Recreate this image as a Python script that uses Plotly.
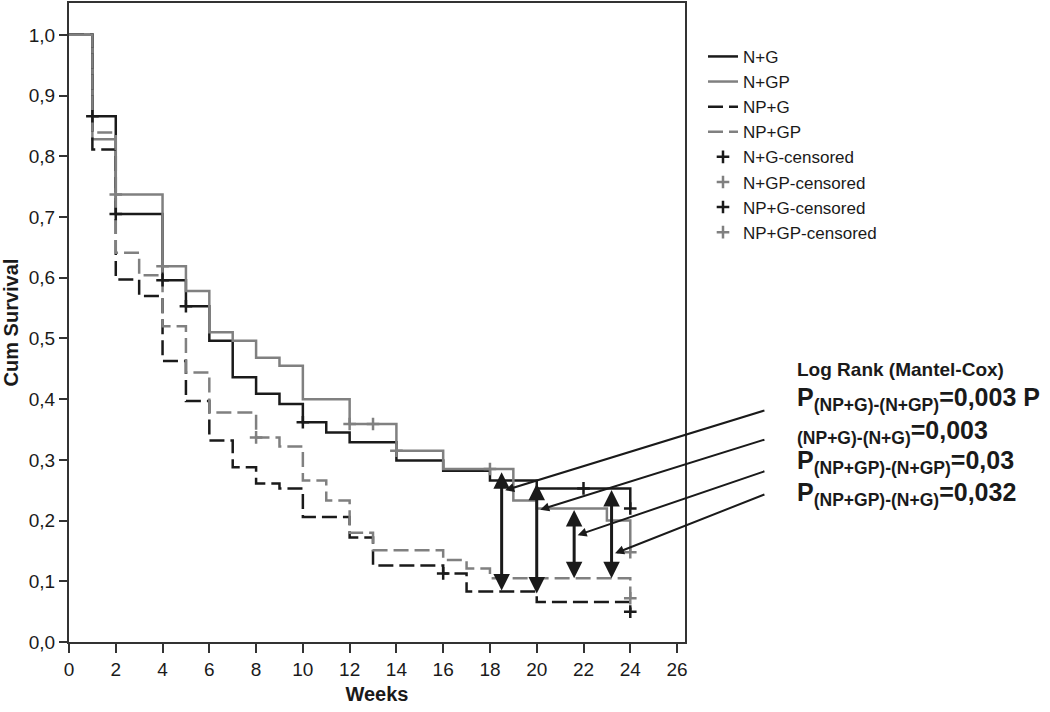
import plotly.graph_objects as go

# ── Kaplan-Meier step data (weeks, cumulative survival) ──────────────────────
ng_t = [0, 1, 2, 4, 5, 6, 7, 8, 9, 10, 11, 12, 14, 16, 18, 20, 24]
ng_s = [1.0, 0.866, 0.705, 0.596, 0.553, 0.496, 0.436, 0.409, 0.392, 0.362,
        0.345, 0.329, 0.299, 0.282, 0.266, 0.253, 0.22]

ngp_t = [0, 1, 2, 4, 5, 6, 7, 8, 9, 10, 12, 14, 16, 19, 20, 23, 24]
ngp_s = [1.0, 0.828, 0.737, 0.619, 0.578, 0.51, 0.496, 0.468, 0.455, 0.40,
         0.359, 0.315, 0.285, 0.233, 0.22, 0.20, 0.148]

npg_t = [0, 1, 2, 3, 4, 5, 6, 7, 8, 9, 10, 12, 13, 16, 17, 20, 24]
npg_s = [1.0, 0.811, 0.597, 0.570, 0.463, 0.397, 0.332, 0.288, 0.261, 0.253,
         0.206, 0.172, 0.126, 0.113, 0.083, 0.066, 0.05]

npgp_t = [0, 1, 2, 3, 4, 5, 6, 8, 9, 10, 11, 12, 13, 16, 17, 18, 24]
npgp_s = [1.0, 0.839, 0.641, 0.604, 0.52, 0.444, 0.378, 0.337, 0.322, 0.266,
          0.233, 0.18, 0.151, 0.135, 0.121, 0.105, 0.072]

# censored observations
ng_ct = [1, 2, 4, 5, 10, 22, 24]
ng_cs = [0.866, 0.705, 0.596, 0.553, 0.362, 0.253, 0.22]
ngp_ct = [2, 4, 12, 13, 14, 18, 24]
ngp_cs = [0.737, 0.619, 0.359, 0.359, 0.315, 0.285, 0.148]
npg_ct = [16, 24]
npg_cs = [0.113, 0.05]
npgp_ct = [8, 24]
npgp_cs = [0.337, 0.072]

# comparison arrows (week, lower, upper)
cmp_x = [18.5, 20.0, 21.6, 23.2]
cmp_lo = [0.085, 0.08, 0.105, 0.105]
cmp_hi = [0.282, 0.263, 0.22, 0.253]

# pointer lines: tip (week, surv) and tail (week, surv)
ptr_tip_x = [18.65, 20.15, 21.75, 23.35]
ptr_tip_y = [0.250, 0.218, 0.176, 0.146]
ptr_tail_x = [29.8, 29.8, 29.8, 29.8]
ptr_tail_y = [0.382, 0.334, 0.282, 0.244]

# Log rank text block
logrank_title = "Log Rank (Mantel-Cox)"
logrank_lines = [
    "P<sub>(NP+G)-(N+GP)</sub>=0,003 P",
    "<sub>(NP+G)-(N+G)</sub>=0,003",
    "P<sub>(NP+GP)-(N+GP)</sub>=0,03",
    "P<sub>(NP+GP)-(N+G)</sub>=0,032",
]

BLACK = "#1a1a1a"
GRAY = "#808080"
DASH = "15px,6px"
FONT = "Liberation Sans, Arial, sans-serif"

fig = go.Figure()

curves = [
    ("N+G", ng_t, ng_s, BLACK, "solid"),
    ("N+GP", ngp_t, ngp_s, GRAY, "solid"),
    ("NP+G", npg_t, npg_s, BLACK, DASH),
    ("NP+GP", npgp_t, npgp_s, GRAY, DASH),
]
for name, t, s, col, dash in curves:
    fig.add_trace(go.Scatter(
        x=t, y=s, mode="lines", name=name, line_shape="hv",
        line=dict(color=col, width=2.5, dash=dash),
        legendgroup=name,
    ))

censored = [
    ("N+G-censored", ng_ct, ng_cs, BLACK),
    ("N+GP-censored", ngp_ct, ngp_cs, GRAY),
    ("NP+G-censored", npg_ct, npg_cs, BLACK),
    ("NP+GP-censored", npgp_ct, npgp_cs, GRAY),
]
for name, t, s, col in censored:
    fig.add_trace(go.Scatter(
        x=t, y=s, mode="markers", name=name,
        marker=dict(symbol="cross-thin", size=9, color=col,
                    line=dict(color=col, width=2.5)),
        legendgroup=name,
    ))

# margins (pixels) and plot area size, for placing text in pixel terms
L, R, T, B = 69, 365, 1, 70
pw, ph = 1050 - L - R, 712 - T - B


def px_to_paper(px, py):
    return (px - L) / pw, (712 - B - py) / ph


annotations = []
for x, lo, hi in zip(cmp_x, cmp_lo, cmp_hi):
    annotations.append(dict(
        x=x, y=lo, ax=x, ay=hi, xref="x", yref="y", axref="x", ayref="y",
        text="", showarrow=True, arrowhead=2, arrowside="end+start",
        arrowsize=1.1, arrowwidth=3, arrowcolor=BLACK,
    ))
for tx, ty, sx, sy in zip(ptr_tip_x, ptr_tip_y, ptr_tail_x, ptr_tail_y):
    annotations.append(dict(
        x=tx, y=ty, ax=sx, ay=sy, xref="x", yref="y", axref="x", ayref="y",
        text="", showarrow=True, arrowhead=2, arrowsize=0.9,
        arrowwidth=2, arrowcolor=BLACK,
    ))

ax_, ay_ = px_to_paper(795, 369)
annotations.append(dict(
    x=ax_, y=ay_, xref="paper", yref="paper", text=f"<b>{logrank_title}</b>",
    showarrow=False, xanchor="left", yanchor="middle",
    font=dict(size=19, family=FONT, color=BLACK),
))
for line, py in zip(logrank_lines, [398, 431, 461, 494]):
    ax_, ay_ = px_to_paper(795, py)
    annotations.append(dict(
        x=ax_, y=ay_, xref="paper", yref="paper", text=f"<b>{line}</b>",
        showarrow=False, xanchor="left", yanchor="middle",
        font=dict(size=25, family=FONT, color=BLACK),
    ))

lx, ly = px_to_paper(703, 37)

fig.update_layout(
    width=1050, height=712,
    paper_bgcolor="white", plot_bgcolor="white",
    margin=dict(l=L, r=R, t=T, b=B),
    font=dict(family=FONT, color=BLACK),
    showlegend=True,
    legend=dict(
        x=lx, y=ly, xanchor="left", yanchor="top",
        font=dict(size=17, color=BLACK), bgcolor="rgba(0,0,0,0)",
        tracegroupgap=0, itemwidth=30,
    ),
    annotations=annotations,
    xaxis=dict(
        range=[0, 26.34], tickvals=list(range(0, 27, 2)),
        ticks="outside", ticklen=9, tickwidth=2, tickcolor="#333",
        showgrid=False, zeroline=False, showline=True, linecolor="#333",
        linewidth=2, mirror=True, tickfont=dict(size=19),
        title=dict(text="<b>Weeks</b>", font=dict(size=20), standoff=8),
    ),
    yaxis=dict(
        range=[0, 1.0525], tickvals=[i / 10 for i in range(11)],
        ticktext=[f"{i / 10:.1f}".replace(".", ",") for i in range(11)],
        ticks="outside", ticklen=8, tickwidth=2, tickcolor="#333",
        showgrid=False, zeroline=False, showline=True, linecolor="#333",
        linewidth=2, mirror=True, tickfont=dict(size=19),
        title=dict(text="<b>Cum Survival</b>", font=dict(size=20), standoff=6),
    ),
)

fig.write_html("out.html", config={"displayModeBar": False},
               post_script="document.body.style.margin='0';")
